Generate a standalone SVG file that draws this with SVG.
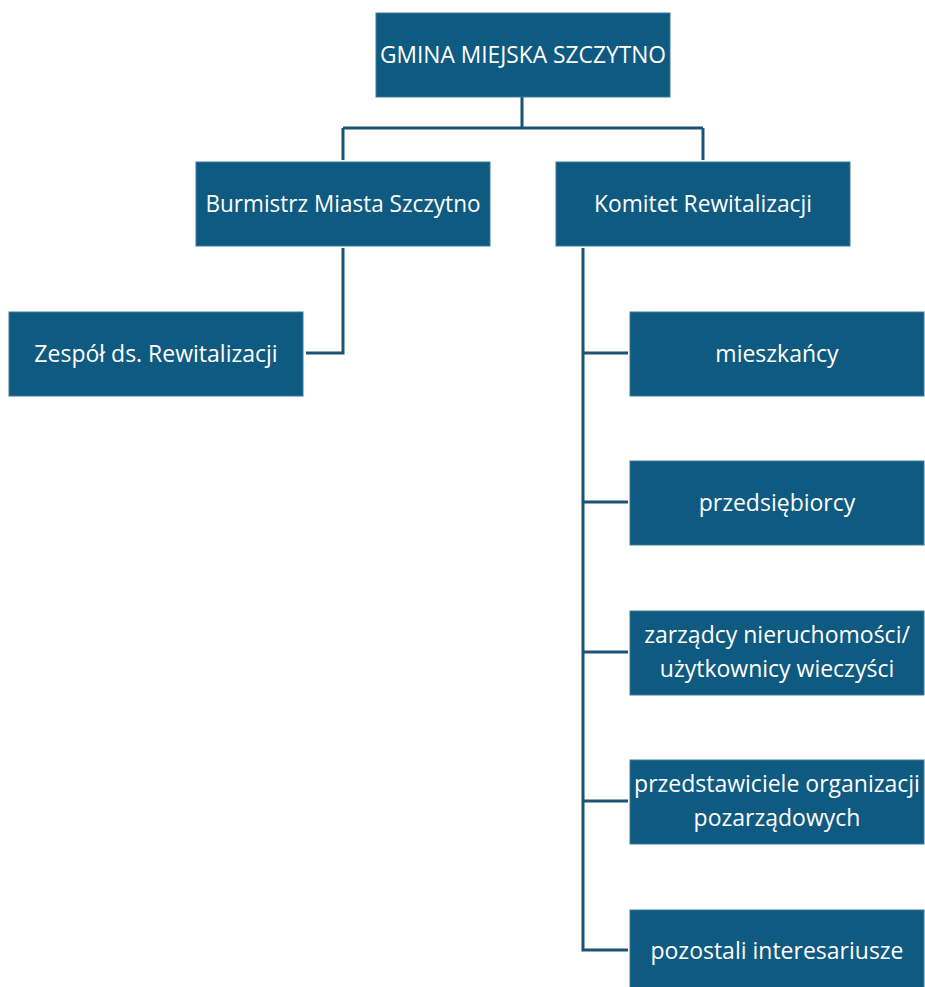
<svg xmlns="http://www.w3.org/2000/svg" width="925" height="987" viewBox="0 0 925 987">
<style>
.box{fill:#0f5a80;stroke:#3d7a9a;stroke-width:1}
.t{font-family:"Open Sans","Liberation Sans",sans-serif;font-size:23px;fill:#ffffff;text-anchor:middle}
.c{fill:none;stroke:#1a5373;stroke-width:3}
</style>
<rect width="925" height="987" fill="#ffffff"/>
<g id="connectors">
<path class="c" d="M522 97 V128 M343 128 H703 M343 128 V160 M703 128 V160"/>
<path class="c" d="M343 248 V353 H306"/>
<path class="c" d="M583 248 V950 H628 M583 353 H628 M583 502 H628 M583 652 H628 M583 801 H628"/>
</g>
<g id="gmina"><rect class="box" x="376" y="13" width="294" height="84"/><text class="t" x="523" y="63" textLength="286" lengthAdjust="spacingAndGlyphs">GMINA MIEJSKA SZCZYTNO</text></g>
<g id="burmistrz"><rect class="box" x="196" y="162" width="294" height="84"/><text class="t" x="343" y="212" textLength="275" lengthAdjust="spacingAndGlyphs">Burmistrz Miasta Szczytno</text></g>
<g id="komitet"><rect class="box" x="556" y="162" width="294" height="84"/><text class="t" x="703" y="212" textLength="218" lengthAdjust="spacingAndGlyphs">Komitet Rewitalizacji</text></g>
<g id="zespol"><rect class="box" x="9" y="312" width="294" height="84"/><text class="t" x="156" y="362">Zespół ds. Rewitalizacji</text></g>
<g id="mieszkancy"><rect class="box" x="630" y="312" width="294" height="84"/><text class="t" x="777" y="362">mieszkańcy</text></g>
<g id="przedsiebiorcy"><rect class="box" x="630" y="461" width="294" height="84"/><text class="t" x="777" y="511">przedsiębiorcy</text></g>
<g id="zarzadcy"><rect class="box" x="630" y="611" width="294" height="84"/><text class="t" x="777" y="643">zarządcy nieruchomości/</text><text class="t" x="777" y="677">użytkownicy wieczyści</text></g>
<g id="przedstawiciele"><rect class="box" x="630" y="760" width="294" height="84"/><text class="t" x="777" y="792">przedstawiciele organizacji</text><text class="t" x="777" y="826">pozarządowych</text></g>
<g id="pozostali"><rect class="box" x="630" y="910" width="294" height="84"/><text class="t" x="777" y="959">pozostali interesariusze</text></g>
</svg>
